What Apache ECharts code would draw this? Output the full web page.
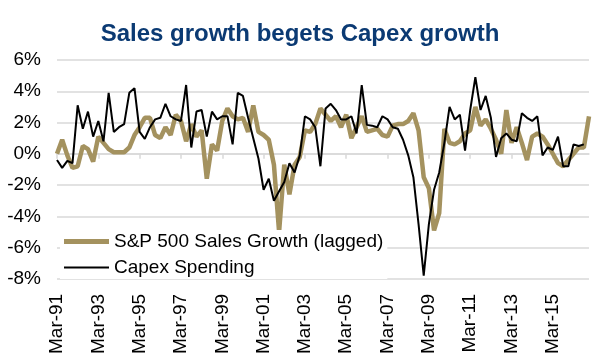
<!DOCTYPE html>
<html>
<head>
<meta charset="utf-8">
<script src="https://cdn.jsdelivr.net/npm/echarts@6/dist/echarts.min.js"></script>
<style>html,body{margin:0;padding:0;background:#fff;}#c{width:600px;height:357px;}</style>
</head>
<body>
<div id="c"></div>
<script>
// Quarterly categories Mar-91 ... Dec-16
const years = ['91','92','93','94','95','96','97','98','99','00','01','02','03','04','05','06','07','08','09','10','11','12','13','14','15','16'];
const months = ['Mar','Jun','Sep','Dec'];
const categories = [];
years.forEach(y => months.forEach(m => categories.push(m + '-' + y)));

const yTicks = [-8, -6, -4, -2, 0, 2, 4, 6];

const salesGrowth = [
  0.0, 0.9, -0.1, -0.9, -0.8, 0.5, 0.3, -0.5, 1.1, 0.7, 0.3, 0.1, 0.1, 0.1, 0.4, 1.2, 1.7, 2.3,
  2.3, 1.2, 1.0, 1.7, 1.2, 2.5, 2.1, 0.8, 1.9, 1.1, 1.5, -1.6, 0.6, 0.2, 2.1, 2.9, 2.4, 2.2,
  2.3, 1.4, 3.1, 1.4, 1.2, 0.9, -0.7, -5.0, -0.7, -2.6, -0.7, -0.2, 1.5, 1.4, 1.9, 2.9, 2.5, 2.1,
  2.4, 1.7, 2.5, 1.0, 1.7, 2.4, 1.4, 1.5, 1.6, 1.2, 1.1, 1.8, 1.9, 1.9, 2.1, 2.6, 1.5, -1.5,
  -2.2, -4.9, -3.8, 1.6, 0.7, 0.6, 0.8, 1.3, 1.5, 3.0, 1.8, 2.2, 1.6, 0.9, 0.0, 2.8, 0.7, 1.7,
  0.7, -0.4, 1.1, 1.3, 1.1, 0.6, 0.0, -0.6, -0.8, -0.4, 0.0, 0.4, 0.4, 2.4
];

const capexSpending = [
  -0.4, -0.9, -0.45, -0.6, 3.1, 1.6, 2.7, 1.1, 2.1, 0.8, 3.9, 1.4, 1.7, 1.9, 3.9, 4.2, 1.4, 0.95,
  1.7, 2.2, 2.3, 3.2, 2.4, 2.2, 2.1, 4.4, 0.4, 2.7, 2.8, 1.1, 2.7, 2.2, 2.4, 2.4, 0.6, 3.9,
  3.7, 2.3, 1.0, -0.3, -2.3, -1.6, -3.0, -2.4, -1.8, -0.6, -1.2, -0.1, 2.4, 2.2, 1.7, -0.8, 2.9, 3.2,
  2.8, 2.2, 2.2, 2.4, 1.3, 4.4, 1.85, 1.8, 1.7, 2.4, 2.2, 1.7, 1.6, 0.9, -0.1, -1.5, -4.5, -7.8,
  -4.5, -2.3, -1.2, 0.7, 3.0, 2.2, 2.5, 0.2, 2.8, 4.9, 2.8, 3.7, 2.3, -0.2, 1.0, 1.3, 0.9, 0.8,
  2.6, 2.3, 2.1, 2.4, -0.1, 0.4, 0.25, 1.1, -0.8, -0.8, 0.6, 0.5, 0.6, null
];

const seriesNames = ['S&P 500 Sales Growth (lagged)', 'Capex Spending'];
const FONT = '"Liberation Sans", Arial, sans-serif';
const TAN = '#a4925f';
const GRID = '#d9d9d9';

const chart = echarts.init(document.getElementById('c'), null, {renderer: 'canvas'});
chart.setOption({
  animation: false,
  backgroundColor: '#fff',
  title: {
    text: 'Sales growth begets Capex growth',
    left: 'center',
    top: 17,
    textStyle: {fontFamily: FONT, fontSize: 24, fontWeight: 'bold', color: '#0b3a73'}
  },
  grid: {left: 57, right: 11, top: 60, bottom: 78, containLabel: false},
  legend: {
    orient: 'vertical',
    left: 60,
    top: 230,
    itemWidth: 45,
    itemHeight: 14,
    itemGap: 7,
    padding: [2, 4, 2, 4],
    backgroundColor: '#fff',
    textStyle: {fontFamily: FONT, fontSize: 19, color: '#000'},
    data: [
      {name: seriesNames[0], icon: 'path://M0,0 L45,0 L45,5 L0,5 Z', itemStyle: {color: TAN}},
      {name: seriesNames[1], icon: 'path://M0,0 L45,0 L45,2 L0,2 Z', itemStyle: {color: '#000'}}
    ]
  },
  xAxis: [
    {
      type: 'category',
      position: 'bottom',
      boundaryGap: false,
      data: categories,
      axisLine: {show: false, onZero: false},
      axisTick: {show: false},
      splitLine: {show: false},
      axisLabel: {
        interval: 7,
        rotate: 90,
        margin: 15,
        fontFamily: FONT,
        fontSize: 19,
        color: '#000'
      }
    },
    {
      type: 'category',
      position: 'bottom',
      boundaryGap: false,
      data: categories,
      axisLine: {show: true, onZero: true, lineStyle: {color: GRID, width: 1.5}},
      axisTick: {show: true, interval: 7, length: 5, lineStyle: {color: GRID, width: 1.5}},
      axisLabel: {show: false},
      splitLine: {show: false}
    }
  ],
  yAxis: {
    type: 'value',
    min: yTicks[0],
    max: yTicks[yTicks.length - 1],
    interval: 2,
    axisLine: {show: false},
    axisTick: {show: false},
    splitLine: {show: true, lineStyle: {color: GRID, width: 1.5}},
    axisLabel: {
      margin: 16,
      fontFamily: FONT,
      fontSize: 19,
      color: '#000',
      formatter: v => v + '%'
    }
  },
  series: [
    {
      name: seriesNames[0],
      type: 'line',
      data: salesGrowth,
      showSymbol: false,
      symbol: 'none',
      lineStyle: {color: TAN, width: 4.5},
      itemStyle: {color: TAN},
      z: 2
    },
    {
      name: seriesNames[1],
      type: 'line',
      data: capexSpending,
      showSymbol: false,
      symbol: 'none',
      lineStyle: {color: '#000', width: 2},
      itemStyle: {color: '#000'},
      z: 3
    }
  ]
});
</script>
</body>
</html>
